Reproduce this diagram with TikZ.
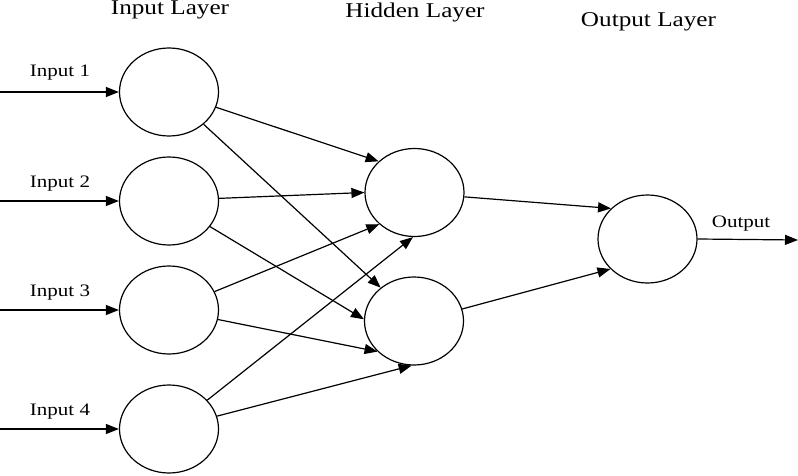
\documentclass[tikz,border=0pt]{standalone}
\usepackage{fontspec}
\setmainfont{Liberation Serif}
\usetikzlibrary{shapes.geometric,arrows.meta}
\tikzset{
  neuron/.style={draw, ellipse, line width=1.2pt, inner sep=0pt, minimum width=99pt, minimum height=88pt},
  arr/.style={line width=1.2pt, -{Triangle[length=13pt,width=10pt]}},
  title/.style={anchor=base, inner sep=0pt, font=\fontsize{21}{24}\selectfont},
  lab/.style={anchor=base, inner sep=0pt, font=\fontsize{17.5}{20}\selectfont}
}
\newcommand{\wide}[1]{\scalebox{1.2}[1]{#1}}
\begin{document}
\begin{tikzpicture}[x=1pt, y=-1pt]
\useasboundingbox (0,0) rectangle (798,476);
% titles
\node[title] (tIn) at (170,15) {\wide{Input Layer}};
\node[title] (tHid) at (415,18) {\wide{Hidden Layer}};
\node[title] (tOut) at (648.5,27) {\wide{Output Layer}};
% neurons
\node[neuron] (I1) at (169,92) {};
\node[neuron] (I2) at (169,201) {};
\node[neuron] (I3) at (169,310) {};
\node[neuron] (I4) at (169,429) {};
\node[neuron] (H1) at (414.5,192.5) {};
\node[neuron] (H2) at (414,321) {};
\node[neuron] (O) at (647.5,239) {};
% input labels
\node[lab] (l1) at (60,77) {\wide{Input 1}};
\node[lab] (l2) at (60,187) {\wide{Input 2}};
\node[lab] (l3) at (60,296) {\wide{Input 3}};
\node[lab] (l4) at (60,415) {\wide{Input 4}};
\node[lab] (lo) at (741,227) {\wide{Output}};
% input arrows
\coordinate (s1) at (0,92);
\coordinate (s2) at (0,201);
\coordinate (s3) at (0,310);
\coordinate (s4) at (0,429);
\draw[arr] (s1) -- (I1.west);
\draw[arr] (s2) -- (I2.west);
\draw[arr] (s3) -- (I3.west);
\draw[arr] (s4) -- (I4.west);
% input to hidden
\draw[arr] (I1.-18.8) -- (H1.139.3);
\draw[arr] (I1.-43.3) -- (H2.135.9);
\draw[arr] (I2.3.4) -- (H1.180.6);
\draw[arr] (I2.-32.4) -- (H2.178.8);
\draw[arr] (I3.22.4) -- (H1.222.5);
\draw[arr] (I3.-11.5) -- (H2.220.7);
\draw[arr] (I4.37.3) -- (H1.268);
\draw[arr] (I4.15.2) -- (H2.267.5);
% hidden to output
\draw[arr] (H1.-5.2) -- (O.140.4);
\draw[arr] (H2.14.9) -- (O.219.6);
% output arrow
\coordinate (oe) at (798,240);
\draw[arr] (O.east) -- (oe);
\end{tikzpicture}
\end{document}
